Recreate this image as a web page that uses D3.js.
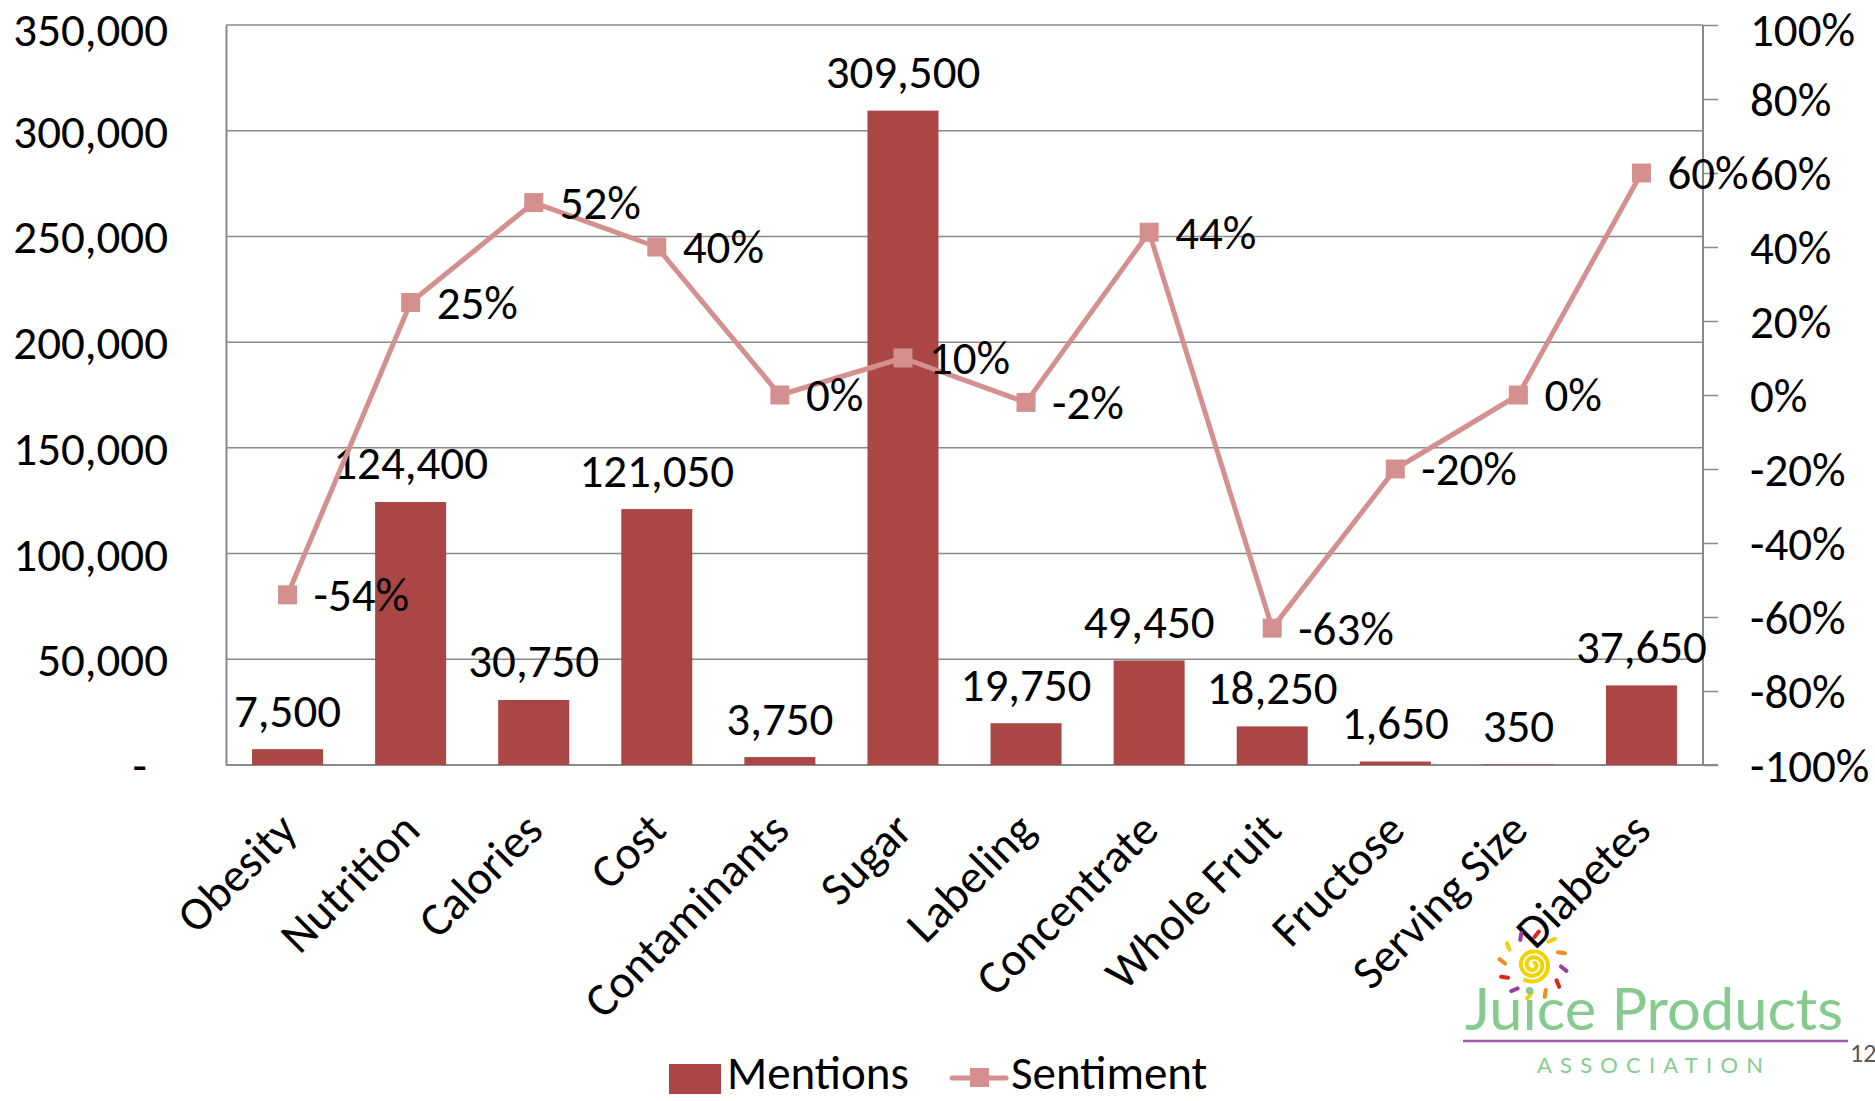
<!DOCTYPE html>
<html lang="en">
<head>
    <meta charset="UTF-8">
    <title>Mentions and Sentiment</title>
    <script src="https://cdnjs.cloudflare.com/ajax/libs/d3/7.8.5/d3.min.js"></script>
    <style>
        html, body { margin: 0; padding: 0; background: #fff; }
        svg { display: block; font-family: Carlito, Calibri, "Open Sans", sans-serif; }
    </style>
</head>
<body>
    <div id="chart"></div>

    <script>
        // chart data
        const categories = ["Obesity", "Nutrition", "Calories", "Cost", "Contaminants", "Sugar",
            "Labeling", "Concentrate", "Whole Fruit", "Fructose", "Serving Size", "Diabetes"];
        const mentions = [7500, 124400, 30750, 121050, 3750, 309500, 19750, 49450, 18250, 1650, 350, 37650];
        const sentiment = [-54, 25, 52, 40, 0, 10, -2, 44, -63, -20, 0, 60];
        const leftTicks = [0, 50000, 100000, 150000, 200000, 250000, 300000, 350000];
        const rightTicks = [-100, -80, -60, -40, -20, 0, 20, 40, 60, 80, 100];

        const width = 1875;
        const height = 1101;
        const plot = { left: 226, right: 1703, top: 25, bottom: 765 };

        const barColor = "#AA4643";
        const lineColor = "#D4908F";
        const gridColor = "#8A8A8A";
        const fontSize = 47;
        const font = "Carlito, Calibri, 'Open Sans', sans-serif";

        const svg = d3.select("#chart")
            .append("svg")
            .attr("width", width)
            .attr("height", height);

        const x = d3.scaleBand()
            .domain(categories)
            .range([plot.left, plot.right])
            .paddingInner(0.423)
            .paddingOuter(0.2115);

        const y = d3.scaleLinear()
            .domain([0, 350000])
            .range([plot.bottom, plot.top]);

        const y2 = d3.scaleLinear()
            .domain([-100, 100])
            .range([plot.bottom, plot.top]);

        const cx = d => x(d) + x.bandwidth() / 2;

        // gridlines
        svg.append("g")
            .selectAll("line")
            .data(leftTicks.slice(1))
            .enter()
            .append("line")
            .attr("x1", plot.left)
            .attr("x2", plot.right)
            .attr("y1", d => y(d))
            .attr("y2", d => y(d))
            .attr("stroke", gridColor)
            .attr("stroke-width", 1.5);

        // left axis labels
        const fmt = d3.format(",");
        const leftAxis = svg.append("g")
            .attr("transform", `translate(${plot.left},0)`)
            .call(d3.axisLeft(y).tickValues(leftTicks).tickSize(0).tickPadding(58)
                .tickFormat(d => d === 0 ? "-" : fmt(d)));
        leftAxis.select(".domain").attr("stroke", gridColor).attr("stroke-width", 2);
        leftAxis.selectAll("text")
            .attr("font-size", fontSize)
            .attr("font-family", font)
            .attr("fill", "#000")
            .attr("y", d => d === 350000 ? 4 : 0)
            .attr("dy", "0.35em")
            .attr("dx", d => d === 0 ? -21 : 0);

        // right axis
        const rightAxis = svg.append("g")
            .attr("transform", `translate(${plot.right},0)`)
            .call(d3.axisRight(y2).tickValues(rightTicks).tickSize(15).tickPadding(32)
                .tickFormat(d => d + "%"));
        rightAxis.select(".domain").attr("stroke", gridColor).attr("stroke-width", 2)
            .attr("d", `M0,${plot.top}V${plot.bottom}`);
        rightAxis.selectAll(".tick line").attr("stroke", gridColor).attr("stroke-width", 1.5);
        rightAxis.selectAll("text")
            .attr("font-size", fontSize)
            .attr("font-family", font)
            .attr("fill", "#000")
            .attr("y", d => d === 100 ? 4 : 0)
            .attr("dy", "0.35em");

        // baseline
        svg.append("line")
            .attr("x1", plot.left)
            .attr("x2", plot.right + 15)
            .attr("y1", y(0))
            .attr("y2", y(0))
            .attr("stroke", gridColor)
            .attr("stroke-width", 2);

        // bars
        svg.append("g")
            .selectAll("rect")
            .data(mentions)
            .enter()
            .append("rect")
            .attr("x", (d, i) => x(categories[i]))
            .attr("y", d => y(d))
            .attr("width", x.bandwidth())
            .attr("height", d => y(0) - y(d))
            .attr("fill", barColor);

        // bar labels
        svg.append("g")
            .selectAll("text")
            .data(mentions)
            .enter()
            .append("text")
            .attr("x", (d, i) => cx(categories[i]))
            .attr("y", d => y(d) - 39)
            .attr("dy", "0.35em")
            .attr("text-anchor", "middle")
            .attr("font-size", fontSize)
            .text(d => fmt(d));

        // sentiment line
        const line = d3.line()
            .x((d, i) => cx(categories[i]))
            .y(d => y2(d));

        svg.append("path")
            .datum(sentiment)
            .attr("d", line)
            .attr("fill", "none")
            .attr("stroke", lineColor)
            .attr("stroke-width", 5)
            .attr("stroke-linejoin", "round");

        svg.append("g")
            .selectAll("rect")
            .data(sentiment)
            .enter()
            .append("rect")
            .attr("x", (d, i) => cx(categories[i]) - 9.5)
            .attr("y", d => y2(d) - 9.5)
            .attr("width", 19)
            .attr("height", 19)
            .attr("fill", lineColor);

        svg.append("g")
            .selectAll("text")
            .data(sentiment)
            .enter()
            .append("text")
            .attr("x", (d, i) => cx(categories[i]) + 26)
            .attr("y", d => y2(d))
            .attr("dy", "0.35em")
            .attr("font-size", fontSize)
            .text(d => d + "%");

        // category labels
        svg.append("g")
            .selectAll("text")
            .data(categories)
            .enter()
            .append("text")
            .attr("transform", d => `translate(${cx(d)},${plot.bottom + 56}) rotate(-45)`)
            .attr("text-anchor", "end")
            .attr("dy", "0.35em")
            .attr("font-size", fontSize)
            .text(d => d);

        // legend
        const legend = svg.append("g");
        legend.append("rect")
            .attr("x", 669).attr("y", 1064)
            .attr("width", 52).attr("height", 30)
            .attr("fill", barColor);
        legend.append("text")
            .attr("x", 727).attr("y", 1089)
            .attr("font-size", fontSize)
            .text("Mentions");
        legend.append("line")
            .attr("x1", 952).attr("x2", 1006)
            .attr("y1", 1078).attr("y2", 1078)
            .attr("stroke", lineColor).attr("stroke-width", 5)
            .attr("stroke-linecap", "round");
        legend.append("rect")
            .attr("x", 970).attr("y", 1068)
            .attr("width", 19).attr("height", 19)
            .attr("fill", lineColor);
        legend.append("text")
            .attr("x", 1011).attr("y", 1089)
            .attr("font-size", fontSize)
            .text("Sentiment");

        // logo
        const logo = svg.append("g");
        const sun = { x: 1533, y: 965 };
        const rayColors = ["#9A3FA0", "#E2231A", "#F2CF00", "#F58A1F", "#9A3FA0", "#E2231A",
            "#F58A1F", "#F2CF00", "#9A3FA0", "#E2231A", "#F58A1F", "#F2CF00"];
        rayColors.forEach((c, i) => {
            const a = (i * 30 - 117) * Math.PI / 180;
            logo.append("line")
                .attr("x1", sun.x + Math.cos(a) * 28)
                .attr("y1", sun.y + Math.sin(a) * 28)
                .attr("x2", sun.x + Math.cos(a + 0.12) * 34)
                .attr("y2", sun.y + Math.sin(a + 0.12) * 34)
                .attr("stroke", c)
                .attr("stroke-width", 4)
                .attr("stroke-linecap", "round");
        });
        const spiral = d3.range(0, 2.6 * Math.PI * 2, 0.1).map(t => [t, 2 + t * 15 / (2.6 * Math.PI * 2)]);
        logo.append("path")
            .attr("transform", `translate(${sun.x},${sun.y})`)
            .attr("d", d3.lineRadial().angle(d => d[0]).radius(d => d[1])(spiral))
            .attr("fill", "none")
            .attr("stroke", "#F2D200")
            .attr("stroke-width", 4);
        logo.append("text")
            .attr("x", 1465).attr("y", 1030)
            .attr("font-size", 58)
            .attr("font-family", "Lato, sans-serif")
            .attr("fill", "#86CB8E")
            .attr("textLength", 378)
            .attr("lengthAdjust", "spacingAndGlyphs")
            .text("Juice Products");
        logo.append("line")
            .attr("x1", 1463).attr("x2", 1848)
            .attr("y1", 1041).attr("y2", 1041)
            .attr("stroke", "#A757AB").attr("stroke-width", 2.5);
        logo.append("text")
            .attr("x", 1537).attr("y", 1073)
            .attr("font-size", 22)
            .attr("font-family", "Lato, sans-serif")
            .attr("fill", "#86CB8E")
            .attr("textLength", 226)
            .text("ASSOCIATION");
        svg.append("text")
            .attr("x", 1850).attr("y", 1062)
            .attr("font-size", 26)
            .attr("fill", "#595959")
            .text("12");
    </script>
</body>
</html>
